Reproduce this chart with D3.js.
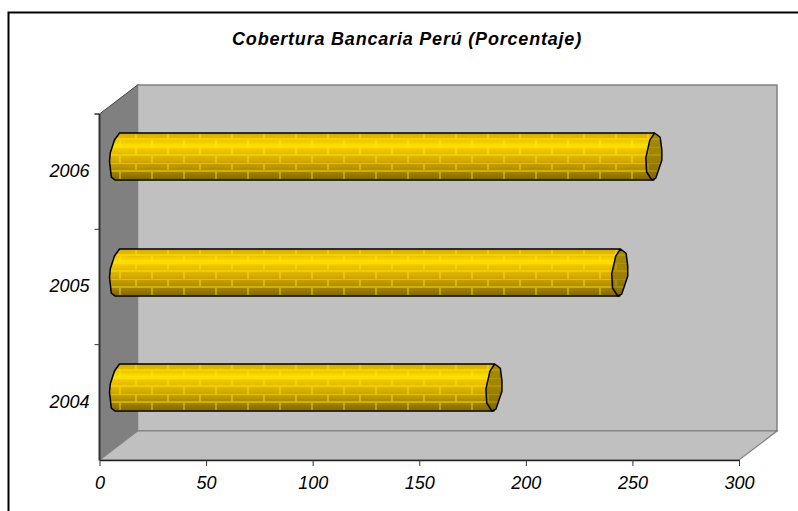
<!DOCTYPE html>
<html><head><meta charset="utf-8">
<script src="https://cdn.jsdelivr.net/npm/d3@7/dist/d3.min.js"></script>
<style>html,body{margin:0;padding:0;background:#fff}svg{display:block}</style>
</head><body><svg id="c" width="798" height="511"></svg>
<script>
const years = ["2004","2005","2006"];
const values = [178, 237, 253];
const xTicks = [0,50,100,150,200,250,300];
const titleText = "Cobertura Bancaria Perú (Porcentaje)";

const svg = d3.select("#c");
const font = "'Liberation Sans', Arial, sans-serif";
const x = d3.scaleLinear().domain([0,300]).range([99.5,739]);
const y = d3.scaleBand().domain(years).range([460,114]);
const dx = 38, dy = -29;
const [x0,x1] = x.range(), [y0,y1] = y.range();

const defs = svg.append("defs");
const g1 = defs.append("linearGradient").attr("id","tube").attr("x1",0).attr("x2",0).attr("y1",0).attr("y2",1);
[[0,"#d8aa00"],[0.12,"#e8bc00"],[0.27,"#ffe000"],[0.36,"#f0c400"],[0.6,"#d4a800"],[0.8,"#ac8800"],[1,"#806400"]]
  .forEach(s=>g1.append("stop").attr("offset",s[0]).attr("stop-color",s[1]));
const g2 = defs.append("linearGradient").attr("id","cap").attr("x1",0).attr("x2",0).attr("y1",0).attr("y2",1);
[[0,"#a48a00"],[0.5,"#a08400"],[1,"#806800"]].forEach(s=>g2.append("stop").attr("offset",s[0]).attr("stop-color",s[1]));
const pat = defs.append("pattern").attr("id","brick").attr("patternUnits","userSpaceOnUse")
  .attr("width",32).attr("height",16).attr("patternTransform","translate(0,-2)");
pat.append("path").attr("d","M0 0H32M0 8H32M8 0V8M24 8V16").attr("stroke","#f8f000").attr("stroke-opacity",0.42).attr("stroke-width",2).attr("fill","none");
const patC = defs.append("pattern").attr("id","brickC").attr("patternUnits","userSpaceOnUse")
  .attr("width",32).attr("height",16).attr("patternTransform","translate(0,-2)");
patC.append("path").attr("d","M0 0H32M0 8H32M8 0V8M24 8V16").attr("stroke","#c8b000").attr("stroke-opacity",0.4).attr("stroke-width",2).attr("fill","none");

// walls
const W = svg.append("g");
W.append("path").attr("d",`M${x0} ${y1}L${x0+dx} ${y1+dy}V${y0+dy}L${x0} ${y0}Z`).attr("fill","#808080");
W.append("path").attr("d",`M${x0+dx} ${y1+dy}H${x1+dx}V${y0+dy}H${x0+dx}Z`).attr("fill","#c0c0c0").attr("stroke","#808080").attr("stroke-width",1.5);
W.append("path").attr("d",`M${x0} ${y0}L${x0+dx} ${y0+dy}H${x1+dx}L${x1} ${y0}Z`).attr("fill","#c0c0c0").attr("stroke","#808080").attr("stroke-width",1.2);
W.append("path").attr("d",`M${x0} ${y1}L${x0+dx} ${y1+dy}`).attr("stroke","#444").attr("fill","none");

// frame (open at right and bottom)
svg.append("path").attr("d","M8.5 511V12.5H798").attr("fill","none").attr("stroke","#000").attr("stroke-width",2);

// axes
const ax = svg.append("g").attr("transform",`translate(0,${y0})`)
  .call(d3.axisBottom(x).tickValues(xTicks).tickSize(6).tickPadding(10).tickSizeOuter(0));
const ay = svg.append("g").attr("transform",`translate(${x0},0)`)
  .call(d3.axisLeft(y).tickSize(0).tickPadding(10));
ay.select(".domain").remove();
svg.append("line").attr("x1",x0).attr("x2",x0).attr("y1",y1).attr("y2",y0).attr("stroke","#333").attr("stroke-width",2);
svg.selectAll("line.yt").data(y.domain().map(d=>y(d)).concat([y1])).join("line").attr("class","yt")
  .attr("x1",x0-5).attr("x2",x0).attr("y1",d=>d).attr("y2",d=>d).attr("stroke","#333");
ax.select(".domain").attr("stroke","#222").attr("stroke-width",1.5);
ax.selectAll(".tick line").attr("stroke","#333");
[ax,ay].forEach(a=>a.selectAll("text").attr("font-family",font).attr("font-style","italic").attr("font-size",18).attr("fill","#000"));
ay.selectAll("text").attr("dy","0.30em");
ax.selectAll(".tick text").attr("dy","0.71em");

// bars: tube outline is a faceted ellipse, as in the low-resolution source
const bh = 47;
const leftEnd = [[1,0],[0.5,0.15],[0.08,0.42],[0,0.6],[0.18,0.94],[0.55,1]];
const capOutline = [[0.1,0],[0.8,0.09],[1,0.36],[1,0.58],[0.25,0.96],[-0.25,1],[-0.9,0.83],[-1,0.53],[-0.5,0.15]];
const line = d3.line();
const bars = svg.append("g").selectAll("g").data(years.map((d,i)=>({year:d,value:values[i]}))).join("g");
bars.each(function(d){
  const cy = y(d.year)+y.bandwidth()/2 - 15;
  const top = Math.round(cy-bh/2);
  const g = d3.select(this).attr("transform",`translate(0,${top})`);
  const xa = x(0)+20, xb = x(d.value)+15;
  const leftPts = leftEnd.map(p=>[xa-(1-p[0])*10, p[1]*bh]);
  const body = "M"+xb+" 0H"+xa+"L"+leftPts.slice(1).map(p=>p.join(" ")).join("L")+"L"+xa+" "+bh+"H"+xb+"Z";
  g.append("path").attr("d",body).attr("fill","url(#tube)");
  g.append("path").attr("d",body).attr("fill","url(#brick)");
  g.append("path").attr("d",body).attr("fill","none").attr("stroke","#000").attr("stroke-width",1.5).attr("stroke-linejoin","round");
  const cap = line(capOutline.map(p=>[xb+p[0]*8,p[1]*bh]))+"Z";
  g.append("path").attr("d",cap).attr("fill","url(#cap)");
  g.append("path").attr("d",cap).attr("fill","url(#brickC)");
  g.append("path").attr("d",cap).attr("fill","none").attr("stroke","#000").attr("stroke-width",1.5).attr("stroke-linejoin","round");
});

svg.append("text").text(titleText).attr("x",407).attr("y",45).attr("text-anchor","middle")
  .attr("font-family",font).attr("font-weight","bold").attr("font-style","italic").attr("font-size",18).attr("letter-spacing",0.8).attr("fill","#000");
</script></body></html>
